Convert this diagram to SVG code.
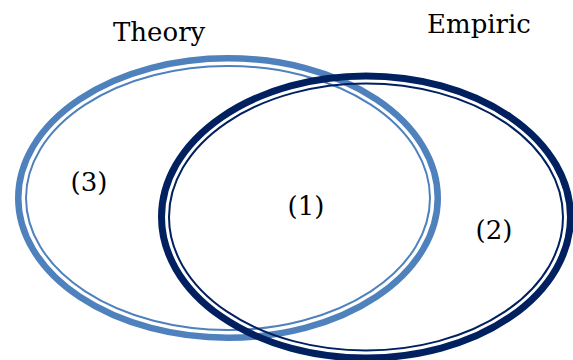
<svg xmlns="http://www.w3.org/2000/svg" width="573" height="360" viewBox="0 0 573 360">
  <style>
    .lbl { font-family: "DejaVu Serif", "Liberation Serif", serif; fill: #000; }
    .title { font-size: 26px; }
    .num { font-size: 26px; text-anchor: middle; }
    .theory { fill: none; stroke: #4F81BD; }
    .empiric { fill: none; stroke: #002060; }
    .thick-t { stroke-width: 6.5; }
    .thick-e { stroke-width: 7; }
    .thin { stroke-width: 2; }
  </style>
  <rect width="573" height="360" fill="#fff"/>
  <g id="theory">
    <ellipse class="theory thick-t" cx="228" cy="198" rx="209.75" ry="139.75"/>
    <ellipse class="theory thin" cx="228" cy="198" rx="202" ry="132"/>
    <text class="lbl title" x="113" y="41">Theory</text>
  </g>
  <g id="empiric">
    <ellipse class="empiric thick-e" cx="366" cy="217" rx="204.5" ry="141"/>
    <ellipse class="empiric thin" cx="366" cy="217" rx="197" ry="133.5"/>
    <text class="lbl title" x="427" y="33">Empiric</text>
  </g>
  <g id="region3">
    <text class="lbl num" x="89" y="191">(3)</text>
  </g>
  <g id="region1">
    <text class="lbl num" x="306" y="215">(1)</text>
  </g>
  <g id="region2">
    <text class="lbl num" x="494" y="239">(2)</text>
  </g>
  <g id="connectors"/>
</svg>
